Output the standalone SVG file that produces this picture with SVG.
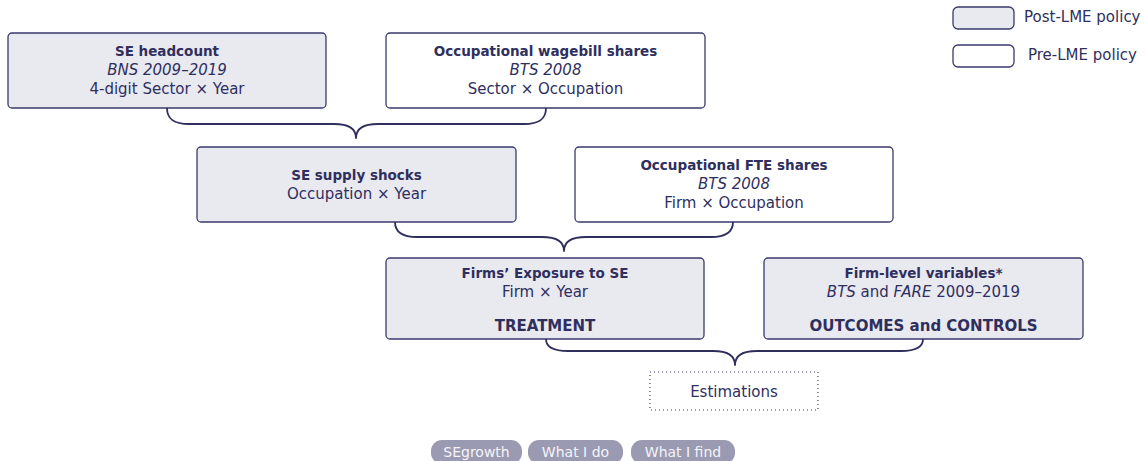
<svg xmlns="http://www.w3.org/2000/svg" width="1146" height="461" viewBox="0 0 1146 461">
<style>
text{font-family:"DejaVu Sans","Liberation Sans",sans-serif;fill:#2f2f5e;text-anchor:middle}
.t{font-size:13.5px;font-weight:bold}
.r{font-size:15px}
.i{font-style:italic}
.big{font-size:15px;font-weight:bold}
.post{fill:#e9e9f0;stroke:#3a3a6c;stroke-width:1.3}
.pre{fill:#ffffff;stroke:#3a3a6c;stroke-width:1.3}
.brace{fill:none;stroke:#2f2f5e;stroke-width:1.8;stroke-linejoin:round}
.pill{fill:#9a9ab3}
.pt{fill:#f4f4f8;font-size:14px}
.lg{text-anchor:start;font-size:15px}
</style>
<g id="legend">
<rect class="post" x="953" y="7" width="61" height="22" rx="5"/>
<text class="lg" x="1024" y="22">Post-LME policy</text>
<rect class="pre" x="953" y="45" width="61" height="22" rx="5"/>
<text class="lg" x="1028" y="60">Pre-LME policy</text>
</g>
<g id="se-headcount">
<rect class="post" x="8" y="33" width="318" height="75" rx="4"/>
<text class="t" x="167" y="56">SE headcount</text>
<text class="r i" x="167" y="75">BNS 2009–2019</text>
<text class="r" x="167" y="94">4-digit Sector × Year</text>
</g>
<g id="occ-wagebill">
<rect class="pre" x="386" y="33" width="319" height="75" rx="4"/>
<text class="t" x="545.5" y="56">Occupational wagebill shares</text>
<text class="r i" x="545.5" y="75">BTS 2008</text>
<text class="r" x="545.5" y="94">Sector × Occupation</text>
</g>
<g id="se-supply">
<rect class="post" x="197" y="147" width="319" height="75" rx="4"/>
<text class="t" x="356.5" y="180">SE supply shocks</text>
<text class="r" x="356.5" y="199">Occupation × Year</text>
</g>
<g id="occ-fte">
<rect class="pre" x="575" y="147" width="318" height="75" rx="4"/>
<text class="t" x="734" y="170">Occupational FTE shares</text>
<text class="r i" x="734" y="189">BTS 2008</text>
<text class="r" x="734" y="208">Firm × Occupation</text>
</g>
<g id="exposure">
<rect class="post" x="386" y="258" width="318" height="81" rx="4"/>
<text class="t" x="545" y="278">Firms’ Exposure to SE</text>
<text class="r" x="545" y="297">Firm × Year</text>
<text class="big" x="545" y="331">TREATMENT</text>
</g>
<g id="firm-level">
<rect class="post" x="764" y="258" width="319" height="81" rx="4"/>
<text class="t" x="923.5" y="278">Firm-level variables*</text>
<text class="r" x="923.5" y="297"><tspan class="i">BTS</tspan> and <tspan class="i">FARE</tspan> 2009–2019</text>
<text class="big" x="923.5" y="331">OUTCOMES and CONTROLS</text>
</g>
<g id="estimations">
<rect x="650" y="372" width="168" height="38" fill="none" stroke="#3a3a6c" stroke-width="1.2" stroke-dasharray="1 3"/>
<text class="r" x="734" y="397">Estimations</text>
</g>
<g id="connectors">
<path class="brace" d="M167,108 C167,120 175,124 189,124 L334,124 C348,124 356,128 356,138 C356,128 364,124 378,124 L524,124 C538,124 546,120 546,108"/>
<path class="brace" d="M395,222 C395,233 403,237 417,237 L542,237 C556,237 564,241 564,251 C564,241 572,237 586,237 L711,237 C725,237 733,233 733,222"/>
<path class="brace" d="M546,339 C546,347 554,351 568,351 L713,351 C727,351 735,355 735,365 C735,355 743,351 757,351 L901,351 C915,351 923,347 923,339"/>
</g>
<g id="nav">
<rect class="pill" x="431" y="440" width="91" height="24" rx="11"/>
<text class="pt" x="476.5" y="457">SEgrowth</text>
<rect class="pill" x="528" y="440" width="95" height="24" rx="11"/>
<text class="pt" x="575.5" y="457">What I do</text>
<rect class="pill" x="631" y="440" width="104" height="24" rx="11"/>
<text class="pt" x="683" y="457">What I find</text>
</g>
</svg>
